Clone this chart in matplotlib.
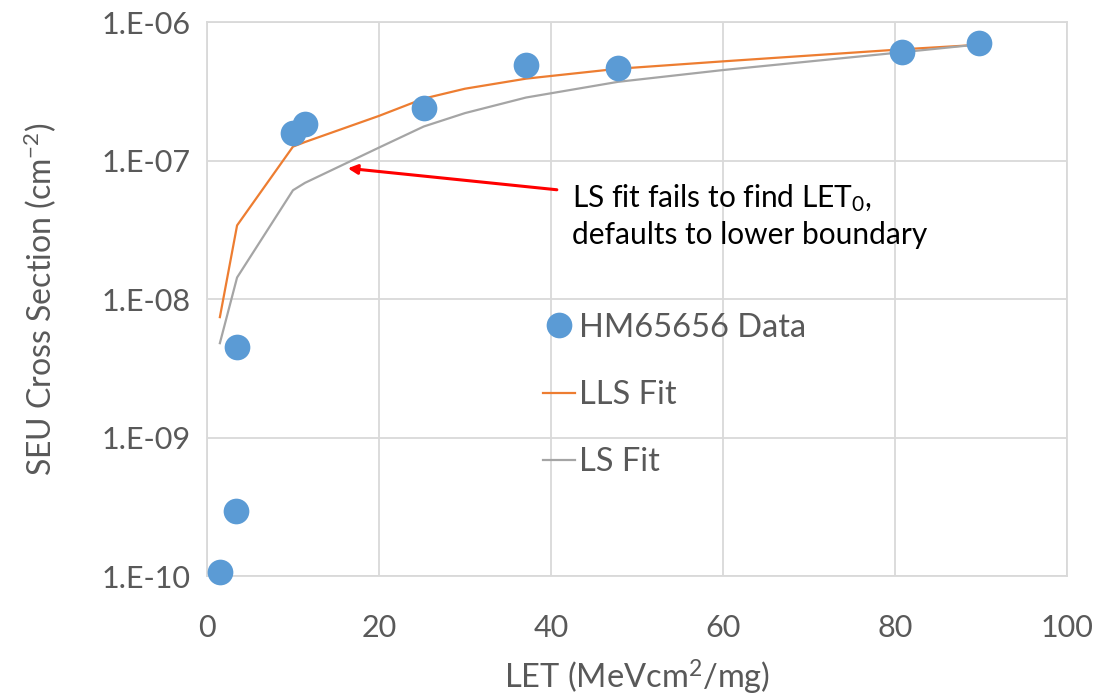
#! /usr/bin/env python3
# SEU cross section vs LET, HM65656 data with LLS and LS fits
import matplotlib
matplotlib.use('Agg')
import matplotlib.pyplot as plt
from matplotlib.lines import Line2D

plt.rcParams['font.family'] = ['Lato', 'DejaVu Sans']
plt.rcParams['mathtext.default'] = 'regular'

# ====== data =================================
let_data = [1.5, 3.4, 3.5, 10.0, 11.4, 25.2, 37.1, 47.8, 80.8, 89.8]
xs_data = [1.07e-10, 2.94e-10, 4.5e-9, 1.59e-7, 1.85e-7, 2.41e-7, 4.9e-7, 4.66e-7, 6.07e-7, 7.05e-7]

let_fit = [1.5, 3.5, 10.0, 11.4, 20.0, 25.2, 30.0, 37.1, 47.8, 60.0, 80.8, 89.8]
lls_fit = [7.4e-9, 3.4e-8, 1.26e-7, 1.36e-7, 2.1e-7, 2.8e-7, 3.3e-7, 3.9e-7, 4.6e-7, 5.2e-7, 6.35e-7, 6.85e-7]
ls_fit = [4.8e-9, 1.43e-8, 6.1e-8, 6.9e-8, 1.24e-7, 1.76e-7, 2.2e-7, 2.85e-7, 3.7e-7, 4.5e-7, 6.05e-7, 6.9e-7]

x_ticks = [0, 20, 40, 60, 80, 100]
y_ticks = [1e-10, 1e-9, 1e-8, 1e-7, 1e-6]
y_tick_labels = ['1.E-10', '1.E-09', '1.E-08', '1.E-07', '1.E-06']

grey_txt = '#595959'
grid_c = '#d9d9d9'

fig = plt.figure(figsize=(11.2, 6.97), dpi=100)
ax = fig.add_axes([0.1848, 0.1736, 0.7679, 0.7948])

ax.plot(let_fit, lls_fit, color='#ed7d31', lw=1.6, zorder=3)
ax.plot(let_fit, ls_fit, color='#a5a5a5', lw=1.6, zorder=3)
ax.plot(let_data, xs_data, 'o', color='#5b9bd5', ms=18.5, mec='none', zorder=4, clip_on=False)

ax.set_yscale('log')
ax.set_xlim(0, 100)
ax.set_ylim(1e-10, 1e-6)
ax.set_xticks(x_ticks)
ax.set_yticks(y_ticks)
ax.set_yticklabels(y_tick_labels)
ax.minorticks_off()
ax.tick_params(length=0, labelsize=22, colors=grey_txt)
ax.tick_params(axis='y', pad=12)
ax.tick_params(axis='x', pad=27)
ax.grid(True, color=grid_c, lw=1.3)
ax.set_axisbelow(True)
for s in ax.spines.values():
	s.set_color(grid_c)
	s.set_linewidth(1.3)

ax.set_xlabel('LET (MeVcm$^{2}$/mg)', fontsize=23.5, color=grey_txt, va='top')
ax.xaxis.set_label_coords(0.5, -0.147)
ax.set_ylabel('SEU Cross Section (cm$^{-2}$)', fontsize=23, color=grey_txt)
ax.yaxis.set_label_coords(-0.172, 0.5)

# annotation with red arrow
ax.annotate('', xy=(16.05, 8.83e-8), xytext=(41.0, 6.12e-8),
            arrowprops=dict(arrowstyle='-|>', color='#ff0000', lw=2.2, mutation_scale=14))
ax.text(42.5, 4.0e-8, 'LS fit fails to find LET$_0$,\ndefaults to lower boundary',
        fontsize=21.5, color='black', va='center', ha='left', linespacing=1.33)

# legend
h_data = Line2D([], [], marker='o', ls='none', color='#5b9bd5', ms=18.5, mec='none')
h_lls = Line2D([], [], color='#ed7d31', lw=1.6)
h_ls = Line2D([], [], color='#a5a5a5', lw=1.6)
leg = ax.legend([h_data, h_lls, h_ls], ['HM65656 Data', 'LLS Fit', 'LS Fit'],
                loc='center left', bbox_to_anchor=(0.3907, 0.3267), frameon=False,
                fontsize=23.5, handlelength=0.97, handletextpad=0.12, labelspacing=1.14,
                borderpad=0, borderaxespad=0)
for t in leg.get_texts():
	t.set_color(grey_txt)

fig.savefig('out.png', dpi=100)
